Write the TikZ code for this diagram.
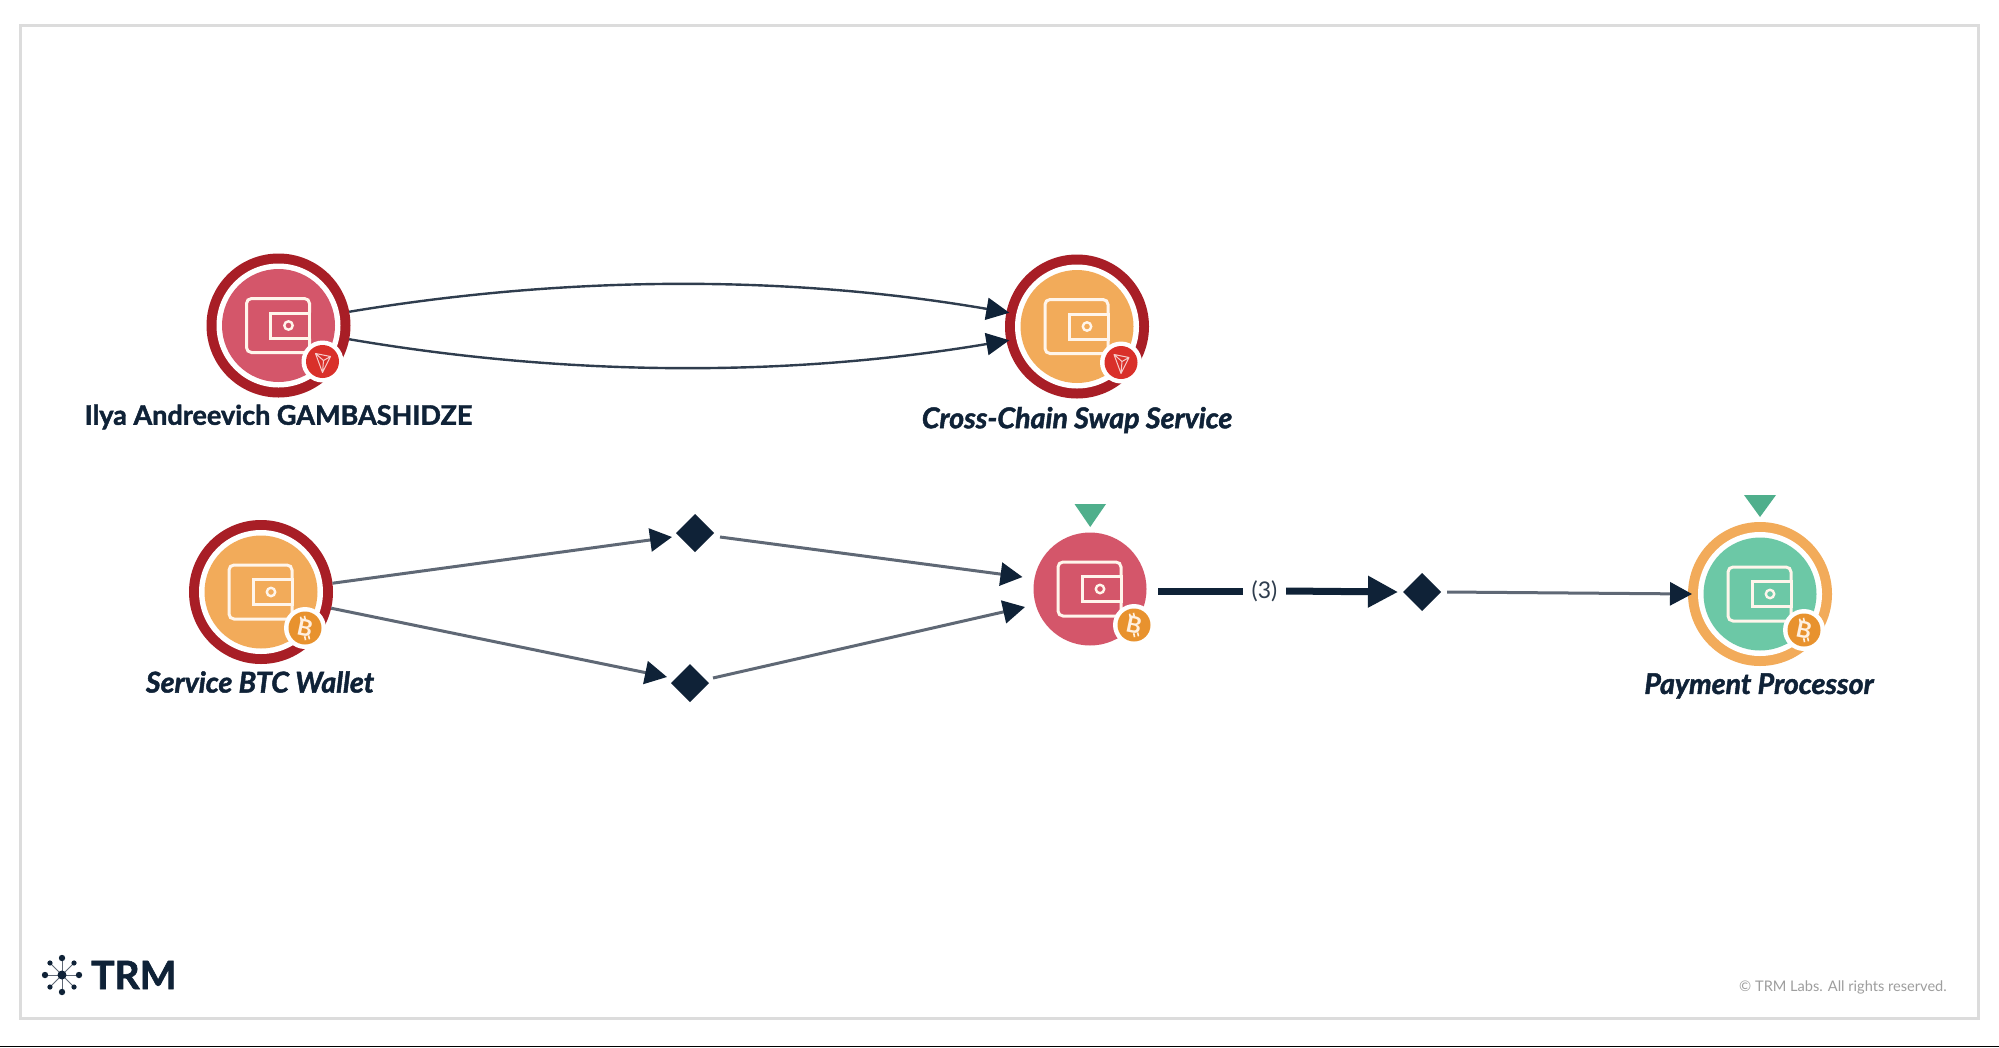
\documentclass[tikz,border=0pt]{standalone}
\usepackage{fontspec}
\setmainfont{Lato}
\newfontfamily\heavyfont{Lato}[FakeBold=1.6]
\usetikzlibrary{arrows.meta,shapes.geometric}
\definecolor{navy}{HTML}{0F2237}
\definecolor{edgedark}{HTML}{2F3D4E}
\definecolor{edgegray}{HTML}{5F6875}
\definecolor{ringred}{HTML}{A81E26}
\definecolor{ringorange}{HTML}{F2AB5A}
\definecolor{fillred}{HTML}{D4566A}
\definecolor{fillorange}{HTML}{F2AB5A}
\definecolor{fillgreen}{HTML}{6CC8A6}
\definecolor{markgreen}{HTML}{4FAF8C}
\definecolor{badgered}{HTML}{D9302A}
\definecolor{badgeorange}{HTML}{E8922E}
\definecolor{framegray}{HTML}{DCDCDC}
\tikzset{
  ringnode/.style={circle,inner sep=0pt,outer sep=0pt,minimum size=144pt},
  corenode/.style={circle,inner sep=0pt,outer sep=0pt,minimum size=113pt},
  diam/.style={diamond,aspect=1,fill=navy,inner sep=0pt,outer sep=0pt,minimum width=38pt,minimum height=38pt},
  namelabel/.style={font=\heavyfont\bfseries\itshape\fontsize{28.6}{32}\selectfont,text=navy,inner sep=0pt},
  uprightlabel/.style={font=\heavyfont\bfseries\fontsize{27}{32}\selectfont,text=navy,inner sep=0pt},
  thinarrow/.style={draw=edgedark,line width=2.4pt,-{Triangle[length=23pt,width=22pt,color=navy]}},
  grayarrow/.style={draw=edgegray,line width=3pt,-{Triangle[length=22pt,width=23pt,color=navy]}},
  heavyline/.style={draw=navy,line width=7pt},
  iconline/.style={draw=white!92!orange,line width=3pt},
}
\newcommand{\walleticon}[2]{%
  \begin{scope}[shift={(#1,#2)}]
    \draw[iconline,rounded corners=5pt] (31,-13) -- (31,-27) -- (-32,-27) -- (-32,27) -- (31,27) -- (31,13);
    \draw[iconline] (31,-12.5) -- (-8,-12.5) -- (-8,12.5) -- (31,12.5) -- cycle;
    \draw[iconline,line width=2.4pt] (10,0) circle (4.2pt);
  \end{scope}}
\newcommand{\tronbadge}[2]{%
  \begin{scope}[shift={(#1,#2)}]
    \fill[white] (44,36) circle (21pt);
    \fill[badgered] (44,36) circle (16.5pt);
    \draw[white!75!badgered,line width=1pt,line join=round] (37,28) -- (52,31) -- (44,47) -- cycle (37,28) -- (45,35) -- (52,31) (45,35) -- (44,47);
  \end{scope}}
\newcommand{\btcbadge}[2]{%
  \begin{scope}[shift={(#1,#2)}]
    \fill[white] (44,36) circle (21pt);
    \fill[badgeorange] (44,36) circle (16.5pt);
    \begin{scope}[shift={(44,36)},rotate=12]
      \node[text=white!88!orange,inner sep=0pt,rotate=-12,font=\bfseries\fontsize{23}{23}\selectfont] at (0,0) {B};
      \draw[white!88!orange,line width=1.6pt] (-2,-12) -- (-2,-8) (2,-12) -- (2,-8) (-2,8) -- (-2,12) (2,8) -- (2,12);
    \end{scope}
  \end{scope}}
\newcommand{\ringlayer}[2]{%
  \fill[white] (#1,#2) circle (62pt);}
\begin{document}
\begin{tikzpicture}[x=1pt,y=-1pt]
\useasboundingbox (0,0) rectangle (1999,1047);
\fill[white] (0,0) rectangle (1999,1047);
\draw[framegray,line width=3pt] (20.5,25.5) rectangle (1978.5,1018.5);
\fill[black] (0,1045.5) rectangle (1999,1047);

% nodes
\node[ringnode,fill=ringred] (n1) at (278.5,325.5) {};
\ringlayer{278.5}{325.5}
\node[corenode,fill=fillred] (c1) at (278.5,325.5) {};
\walleticon{278.5}{325.5}\tronbadge{278.5}{325.5}
\node[uprightlabel] (l1) at (278.5,417) {Ilya Andreevich GAMBASHIDZE};

\node[ringnode,fill=ringred] (n2) at (1077,326.5) {};
\ringlayer{1077}{326.5}
\node[corenode,fill=fillorange] (c2) at (1077,326.5) {};
\walleticon{1077}{326.5}\tronbadge{1077}{326.5}
\node[namelabel] (l2) at (1077,420) {Cross-Chain Swap Service};

\node[ringnode,fill=ringred] (n3) at (261,592) {};
\ringlayer{261}{592}
\node[corenode,fill=fillorange] (c3) at (261,592) {};
\walleticon{261}{592}\btcbadge{261}{592}
\node[namelabel] (l3) at (260,682) {Service BTC Wallet};

\node[corenode,fill=fillred] (n4) at (1090,589) {};
\walleticon{1090}{589}\btcbadge{1090}{589}
\fill[markgreen] (1074.5,504) -- (1106,504) -- (1090.2,527) -- cycle;

\node[ringnode,fill=ringorange] (n5) at (1760,594) {};
\ringlayer{1760}{594}
\node[corenode,fill=fillgreen] (c5) at (1760,594) {};
\walleticon{1760}{594}\btcbadge{1760}{594}
\fill[markgreen] (1744,495) -- (1776,495) -- (1760,517) -- cycle;
\node[namelabel] (l5) at (1759,686) {Payment Processor};

\node[diam] (d1) at (695,533) {};
\node[diam] (d2) at (690,683) {};
\node[diam] (d3) at (1422,592) {};
\node[inner sep=0pt,minimum width=43pt,font=\fontsize{23}{26}\selectfont,text=edgedark] (m) at (1264.5,591) {(3)};

% connectors
\draw[thinarrow] (n1.11) .. controls (570,275) and (790,275) .. ([xshift=3pt]n2.169);
\draw[thinarrow] (n1.349) .. controls (570,377) and (790,377) .. ([xshift=3pt]n2.191);
\draw[grayarrow] (n3.7) -- ([xshift=-4pt,yshift=-4pt]d1.west);
\draw[grayarrow] (n3.347) -- ([xshift=-4pt,yshift=6pt]d2.west);
\draw[grayarrow] ([xshift=6pt,yshift=-4pt]d1.east) -- ([xshift=-11pt,yshift=12pt]n4.west);
\draw[grayarrow] ([xshift=4pt,yshift=5pt]d2.east) -- ([xshift=-8.5pt,yshift=-18pt]n4.west);
\draw[heavyline] ([xshift=11.5pt,yshift=-2pt]n4.east) -- (m.west);
\draw[heavyline,-{Triangle[length=30pt,width=30pt]}] (m.east) -- ([xshift=-5pt]d3.west);
\draw[grayarrow] ([xshift=6pt]d3.east) -- ([xshift=4pt]n5.west);

% logo and footer
\foreach \a/\s in {0/3.2,90/3.2,180/3.2,270/3.2,45/2.6,135/2.6,225/2.6,315/2.6}{
  \draw[edgegray,line width=1pt] (62,975) -- ++(\a:17pt);
  \fill[navy] (62,975) ++(\a:17pt) circle (\s pt);
}
\fill[navy] (62,975) circle (4.5pt);
\node[inner sep=0pt,anchor=west,text=navy,font=\heavyfont\bfseries\fontsize{39}{44}\selectfont] (trm) at (91,975) {TRM};
\node[inner sep=0pt,anchor=east,text=black!38,font=\fontsize{14.6}{18}\selectfont] (copy) at (1947,987) {© TRM Labs. All rights reserved.};
\end{tikzpicture}
\end{document}
